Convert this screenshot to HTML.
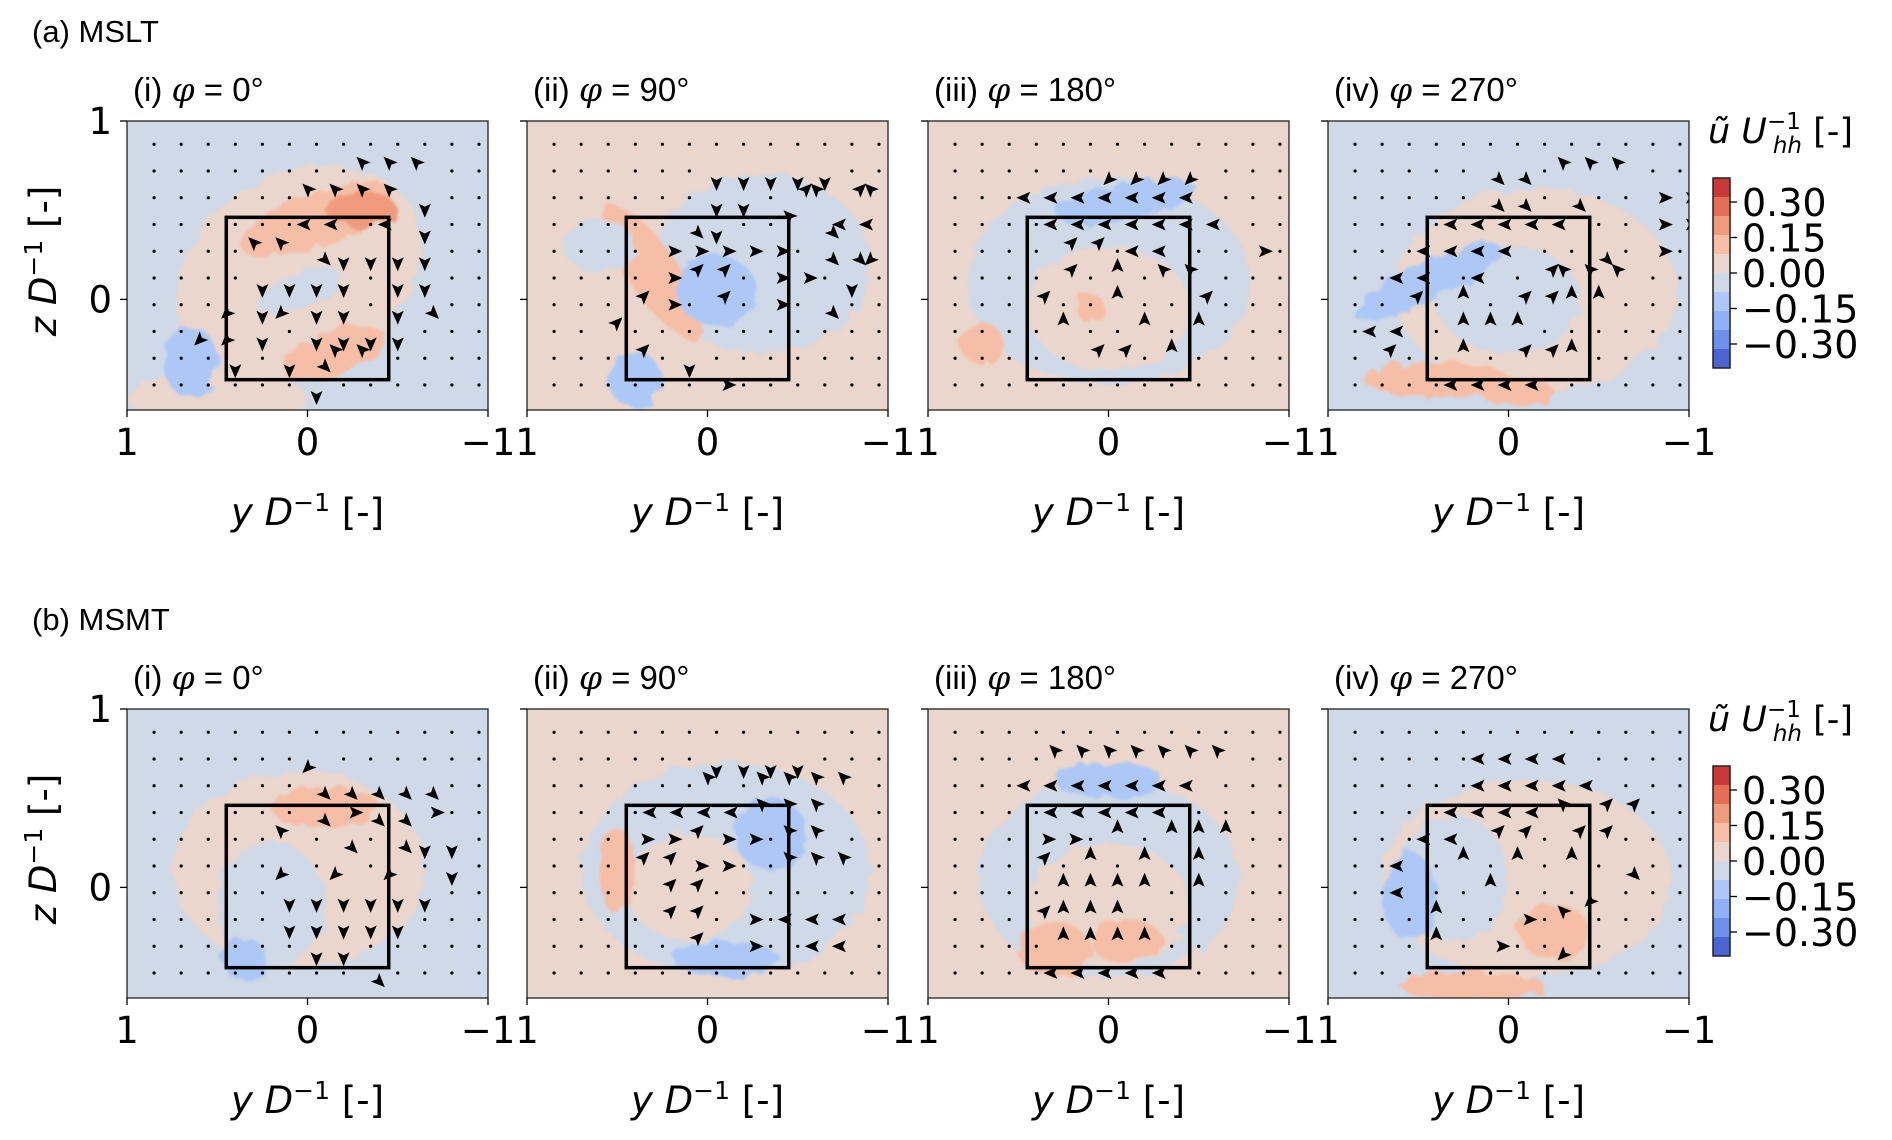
<!DOCTYPE html>
<html><head><meta charset="utf-8"><style>
body{margin:0;background:#fff;}
svg{display:block;font-family:"DejaVu Sans","Liberation Sans",sans-serif;}
</style></head><body>
<svg id="fig" width="1892" height="1140" viewBox="0 0 1892 1140" xmlns="http://www.w3.org/2000/svg">
<defs>
<filter id="blur" x="-20%" y="-20%" width="140%" height="140%"><feTurbulence type="fractalNoise" baseFrequency="0.06" numOctaves="2" seed="3" result="n"/><feDisplacementMap in="SourceGraphic" in2="n" scale="14"/><feGaussianBlur stdDeviation="1.2"/></filter>
</defs>
<g id="root"></g>
</svg>
<script>
const NS="http://www.w3.org/2000/svg";
// ----- data -----
const rowTitles=["(a) MSLT","(b) MSMT"];
const panelPrefix=["(i)  ","(ii) ","(iii) ","(iv) "];
const panelAngles=["0°","90°","180°","270°"];
const xTicks=[1,0,-1];
const yTicks=[1,0];
const cbarTicks=[0.30,0.15,0.00,-0.15,-0.30];
const cbarLabels=["0.30","0.15","0.00","−0.15","−0.30"];
const levelColors=["#4b64d0","#6f90ea","#8fb1f9","#adc8f6","#cfd9e8","#ead6cc","#f6bea6","#f19b7e","#e56f56","#c9393a"];
// blob fields: [y, z, ry, rz, rot, levelIndex]
const bgA=[4,5,5,4], bgB=[4,5,5,4];
const blobsA=[
 [[0.05,0.15,0.72,0.55,-30,5],[0.5,-0.55,0.5,0.15,0,5],[-0.05,0.45,0.45,0.15,-20,6],[-0.15,-0.3,0.3,0.12,-20,6],[-0.3,0.5,0.2,0.1,0,7],[0.05,0.05,0.25,0.1,-20,4],[0.65,-0.35,0.15,0.2,0,3]],
 [[-0.3,0.2,0.6,0.5,0,4],[0.3,0.15,0.14,0.45,-35,6],[-0.05,0.05,0.22,0.2,0,3],[0.4,-0.45,0.15,0.15,0,3],[0.6,0.3,0.2,0.15,0,4]],
 [[0,0.1,0.78,0.58,0,4],[0,-0.05,0.45,0.35,0,5],[-0.1,0.55,0.4,0.1,-10,3],[0.7,-0.25,0.12,0.12,0,6],[0.1,-0.05,0.08,0.08,0,6]],
 [[-0.15,0.05,0.78,0.57,0,5],[0,0,0.4,0.3,0,4],[0.45,0.1,0.45,0.11,-25,3],[0.4,-0.45,0.4,0.1,0,6],[-0.05,-0.52,0.2,0.08,0,6]]
];
const blobsB=[
 [[0.05,0.1,0.7,0.55,0,5],[-0.1,0.45,0.3,0.12,0,6],[0.2,-0.1,0.3,0.35,0,4],[0.35,-0.4,0.12,0.12,0,3]],
 [[-0.1,0.1,0.8,0.6,0,4],[0.1,0,0.35,0.3,0,5],[0.5,0.1,0.1,0.25,0,6],[-0.35,0.3,0.2,0.2,0,3],[-0.1,-0.4,0.3,0.1,0,3]],
 [[0,0.05,0.72,0.56,0,4],[0,-0.1,0.45,0.35,0,5],[0,0.6,0.3,0.1,0,3],[0.3,-0.35,0.2,0.15,0,6],[-0.1,-0.3,0.2,0.12,0,6]],
 [[-0.1,0.05,0.8,0.55,0,5],[0.3,0.05,0.3,0.35,0,4],[0.55,-0.05,0.15,0.25,0,3],[-0.25,-0.25,0.2,0.15,0,6],[0.2,-0.55,0.4,0.08,0,6]]
];
// quiver grids: digits = numpad direction, '.' = tiny
const quivA=[
[".............","........777..","......77772..","......44.42..","....7732222..","....2222.22..","...12122.23..","..112.2222...","...2.2377....","......2......"],
[".............","......22222..","......22.9797",".....32..7344","....66666.331","....699.66.2.","...96.9.6.3..","..9..........","...9.2.......","......6......"],
[".............","......1111...","...4444444...","....4444444..","....99.44..6.","....9.8.77...","...9..8..9...","....8..8.8...",".....99.8....","............."],
[".............",".....33.777..",".....33.3..66","....44444..66","...4444..3.6.","..44.4.9777..","..9.8.9988...",".44.888......",".9..8.998....","....4444....."]
];
const quivB=[
[".............","......1......","......33333..","......36336..",".....7.3.322.",".....1.1.1.2.",".....222222..",".....22222...","......22.....","........3...."],
[".............","......2222...","......7.7777.","....4444777..","...66966.77..","...9966..777.","....99.......","....99.6.444.",".....9.6..44.","............."],
[".............","....7777777..","...4444444...","....44444....","...66.8.888..","...9.8.8.8...","....8888.8...","...9888......","....8888.....","....44444...."],
[".............",".....4444....",".....44444...","....4444799..","...4499.99...","..4.8.8.8.3..","..4..8...1...","...8..6.7....","...8.6..1....","............."]
];
// ----- layout -----
const panelX=[127,527,928,1328], PW=361;
const rowY=[121,709], PH=289;
const zMin=-0.62,zMax=1;
const root=document.getElementById('root');
function el(tag,attrs,parent){const e=document.createElementNS(NS,tag);for(const k in attrs)e.setAttribute(k,attrs[k]);(parent||root).appendChild(e);return e;}
function sx(x0,v){return x0+(1-v)/2*PW;}
function sy(y0,v){return y0+(zMax-v)/(zMax-zMin)*PH;}
const dirs={"1":[-1,1],"2":[0,1],"3":[1,1],"4":[-1,0],"6":[1,0],"7":[-1,-1],"8":[0,-1],"9":[1,-1]};
function panel(r,c){
 const x0=panelX[c],y0=rowY[r];
 const g=el('g',{});
 
 
 const cid='clip'+r+c;
 const cp=el('clipPath',{id:cid},g);el('rect',{x:x0,y:y0,width:PW,height:PH},cp);
 const fld=el('g',{'clip-path':'url(#'+cid+')'},g);
 
 
 const bg=(r?bgB:bgA)[c];
 el('rect',{x:x0,y:y0,width:PW,height:PH,fill:levelColors[bg]},fld);
 const fg=el('g',{filter:'url(#blur)'},fld);
 (r?blobsB:blobsA)[c].forEach(b=>{
  const cx=sx(x0,b[0]),cy=sy(y0,b[1]),rx=b[2]/2*PW,ry=b[3]/(zMax-zMin)*PH;
  const e=el('ellipse',{cx:cx,cy:cy,rx:rx,ry:ry,transform:'rotate('+b[4]+' '+cx+' '+cy+')',fill:levelColors[b[5]]},fg);
  
  
 });
 // quiver
 const q=(r?quivB:quivA)[c];
 const qg=el('g',{'clip-path':'url(#'+cid+')'},g);
 
 
 q.forEach((row,i)=>{for(let j=0;j<13;j++){
  const ch=row[j]||'.';const px=sx(x0,0.85-0.15*j),py=sy(y0,0.87-0.15*i);
  if(ch==='.'){el('circle',{cx:px,cy:py,r:1.6,fill:'#000'},qg);continue;}
  const d=dirs[ch];if(!d)continue;const n=Math.hypot(d[0],d[1]);const ux=d[0]/n,uy=d[1]/n;
  const L=20,W=6;const tx=px+ux*L,ty=py+uy*L;const bx=px+ux*L*0.3,by=py+uy*L*0.3;
  el('polygon',{points:[tx,ty,bx-uy*W,by+ux*W,px+ux*L*0.45,py+uy*L*0.45,bx+uy*W,by-ux*W].join(','),fill:'#000'},qg);
 }});
 // box
 const bxr=el('rect',{x:sx(x0,0.45),y:sy(y0,0.46),width:sx(x0,-0.45)-sx(x0,0.45),height:sy(y0,-0.45)-sy(y0,0.46),fill:'none',stroke:'#000','stroke-width':3.5},g);
 
 
 el('rect',{x:x0,y:y0,width:PW,height:PH,fill:'none',stroke:'#222','stroke-width':1.3},g);
 // ticks
 xTicks.forEach(t=>{const X=sx(x0,t);el('line',{x1:X,x2:X,y1:y0+PH,y2:y0+PH+7,stroke:'#000','stroke-width':1.3},g);
  const tl=el('text',{x:X,y:y0+PH+45,'font-size':37,'text-anchor':'middle'},g);tl.textContent=t<0?'−'+Math.abs(t):String(t);
  
  });
 yTicks.forEach(t=>{const Y=sy(y0,t);el('line',{x1:x0-7,x2:x0,y1:Y,y2:Y,stroke:'#000','stroke-width':1.3},g);
  if(c===0){const tl=el('text',{x:x0-15,y:Y+13,'font-size':37,'text-anchor':'end'},g);tl.textContent=String(t);
  
  }});
 const xl=el('text',{x:x0+PW/2,y:y0+PH+115,'font-size':37,'text-anchor':'middle'},g);
 xl.innerHTML='<tspan font-style="italic">y D</tspan><tspan dy="-14" font-size="25">−1</tspan><tspan dy="14"> [-]</tspan>';
 
 
 const pt=el('text',{x:x0+6,y:y0-20,'font-size':33,'font-family':'Liberation Sans'},g);
 pt.innerHTML=panelPrefix[c]+'<tspan font-family="DejaVu Serif" font-style="italic">φ</tspan> = '+panelAngles[c];
 
 
}
for(let r=0;r<2;r++){
 const rt=el('text',{x:32,y:rowY[r]-79,'font-size':31,'font-family':'Liberation Sans'});rt.textContent=rowTitles[r];
 
 
 for(let c=0;c<4;c++)panel(r,c);
 const yl=el('text',{x:0,y:0,'font-size':37,'text-anchor':'middle',transform:'translate(56,'+(rowY[r]+140)+') rotate(-90)'});
 yl.innerHTML='<tspan font-style="italic">z D</tspan><tspan dy="-14" font-size="25">−1</tspan><tspan dy="14"> [-]</tspan>';
 
 
 // colorbar
 const cb=el('g',{});
 
 
 const top=rowY[r]+57,bh=19,cx=1713;
 levelColors.forEach((col,i)=>{el('rect',{x:cx,y:top+(9-i)*bh,width:17,height:bh,fill:col},cb);});
 el('rect',{x:cx,y:top,width:17,height:bh*10,fill:'none',stroke:'#222','stroke-width':1.5},cb);
 cbarTicks.forEach((t,i)=>{const Y=top+bh*5-t/0.15*35.5;el('line',{x1:cx+17,x2:cx+24,y1:Y,y2:Y,stroke:'#000','stroke-width':1.3},cb);
  const tl=el('text',{x:cx+29,y:Y+14,'font-size':38},cb);tl.textContent=cbarLabels[i];
  
  });
 const cl=el('text',{x:1708,y:rowY[r]+22,'font-size':35},cb);
 cl.innerHTML='<tspan font-style="italic">ũ U</tspan><tspan dy="-14" font-size="23">−1</tspan><tspan dx="-28" dy="24" font-size="23" font-style="italic">hh</tspan><tspan dy="-10"> [-]</tspan>';
 
 
}
</script>
</body></html>
